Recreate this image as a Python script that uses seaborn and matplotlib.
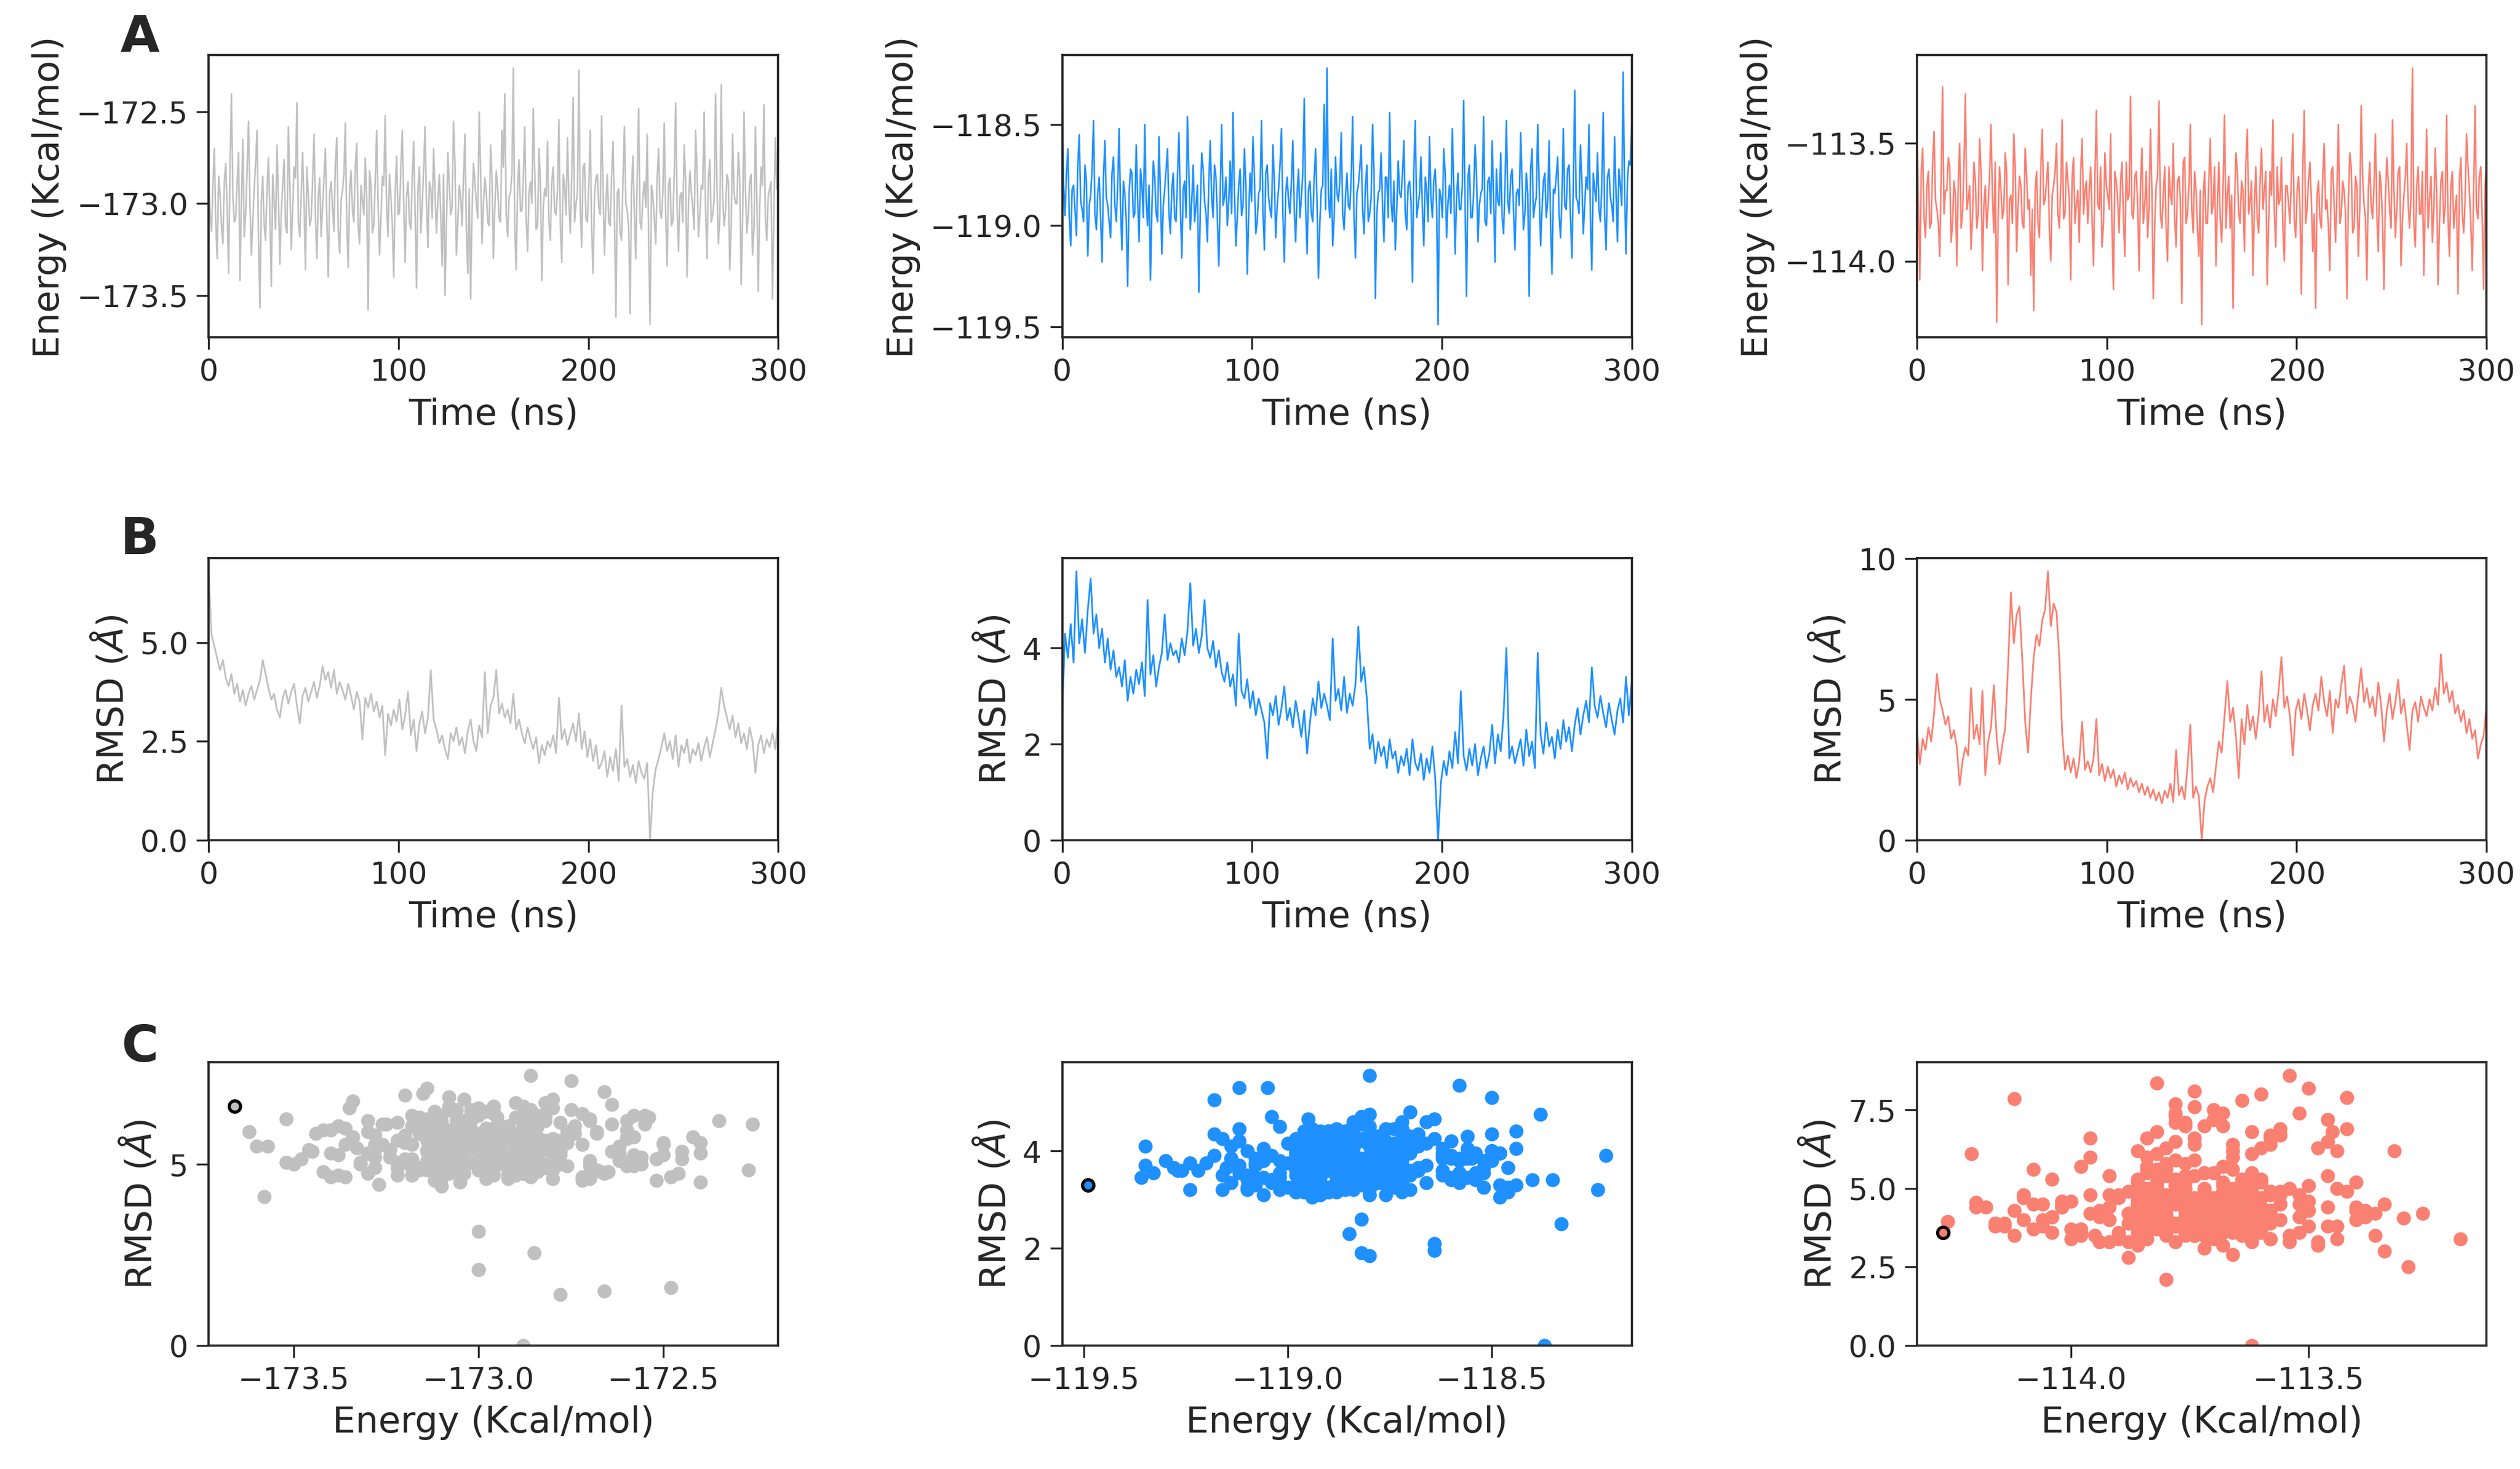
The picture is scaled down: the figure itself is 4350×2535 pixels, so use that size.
import numpy as np
import seaborn as sns
import matplotlib.pyplot as plt
from matplotlib.ticker import MultipleLocator

# 1. energies (one frame every 0.75 ns, 0-300 ns)
gray_energy = [
    -172.82, -173.05, -173.15, -172.90, -172.70, -173.10, -173.30, -172.85, -172.95, -173.12, -173.22, -172.88, -172.78, -173.02, -173.38, -172.80, -172.40, -172.95, -173.10, -173.08,
    -172.88, -172.72, -173.42, -172.98, -172.65, -173.18, -173.05, -172.82, -172.55, -173.00, -173.28, -173.10, -172.92, -172.78, -172.60, -173.20, -173.57, -172.98, -172.85, -173.12,
    -173.20, -172.92, -172.75, -173.06, -173.45, -172.84, -172.98, -173.14, -172.68, -172.96, -173.33, -173.04, -172.90, -172.76, -173.12, -173.16, -172.58, -172.90, -173.25, -173.02,
    -172.80, -172.86, -172.45, -173.10, -173.18, -172.94, -172.72, -173.00, -173.36, -172.80, -172.95, -173.12, -173.08, -172.88, -172.62, -173.06, -173.30, -172.96, -172.86, -173.18,
    -173.02, -172.86, -172.70, -173.08, -173.40, -172.94, -172.88, -173.02, -173.15, -172.78, -172.64, -173.14, -173.27, -172.98, -172.93, -172.84, -172.56, -173.10, -173.35, -172.92,
    -172.82, -173.04, -173.10, -172.80, -172.67, -173.12, -173.22, -172.90, -172.98, -173.06, -172.75, -172.96, -173.58, -172.82, -172.90, -173.16, -173.12, -172.88, -172.60, -173.00,
    -173.28, -173.08, -172.85, -172.90, -172.52, -173.02, -173.18, -172.84, -172.96, -173.12, -173.40, -172.94, -172.74, -173.06, -173.05, -172.80, -172.60, -173.00, -173.32, -172.96,
    -172.88, -173.10, -173.14, -172.86, -172.66, -173.04, -173.46, -172.92, -172.80, -173.16, -173.00, -172.82, -172.58, -173.00, -173.24, -172.88, -172.92, -173.08, -172.70, -172.94,
    -173.16, -172.98, -172.84, -173.06, -173.34, -172.84, -173.50, -173.12, -172.72, -172.90, -173.06, -173.02, -172.55, -172.78, -173.28, -173.10, -172.90, -172.96, -173.12, -172.86,
    -172.62, -173.14, -173.38, -172.92, -173.52, -173.04, -172.78, -172.88, -173.00, -173.08, -172.50, -172.82, -173.22, -173.00, -172.86, -172.94, -173.10, -173.12, -172.68, -172.86,
    -173.30, -173.02, -172.82, -172.92, -173.08, -173.10, -172.60, -172.80, -172.40, -173.06, -173.18, -172.96, -172.94, -172.84, -172.26, -173.14, -173.36, -172.90, -172.76, -173.04,
    -173.04, -172.86, -172.58, -173.08, -173.26, -172.94, -172.88, -173.00, -172.48, -172.82, -173.14, -173.12, -172.70, -172.88, -173.42, -173.02, -172.92, -172.96, -172.66, -173.10,
    -173.20, -172.88, -172.80, -173.04, -173.06, -172.92, -172.54, -173.12, -173.32, -172.84, -172.90, -173.06, -172.64, -172.98, -173.16, -172.86, -172.42, -173.10, -173.00, -172.94,
    -172.27, -173.02, -173.24, -172.80, -172.78, -173.08, -173.10, -172.90, -172.60, -173.14, -173.38, -172.96, -172.86, -172.84, -173.02, -173.06, -172.52, -172.92, -173.28, -173.00,
    -172.84, -173.10, -173.12, -172.86, -172.66, -173.04, -173.62, -172.94, -172.92, -173.16, -173.20, -172.88, -172.58, -173.00, -173.04, -173.12, -173.60, -172.92, -172.74, -173.06,
    -173.30, -172.84, -172.48, -173.10, -173.14, -172.96, -172.88, -173.02, -172.62, -173.18, -173.66, -172.90, -172.96, -173.08, -173.22, -172.86, -172.70, -173.04, -173.08, -172.94,
    -172.56, -173.06, -173.34, -172.90, -172.86, -173.12, -173.10, -172.84, -172.45, -173.02, -173.26, -172.96, -172.94, -173.10, -172.68, -172.88, -173.40, -173.00, -172.82, -172.94,
    -173.02, -173.14, -172.60, -172.82, -173.18, -173.06, -172.90, -172.92, -172.50, -173.04, -173.30, -172.86, -172.76, -173.10, -173.06, -172.98, -172.40, -172.90, -173.22, -173.08,
    -172.35, -172.96, -173.12, -173.04, -172.84, -172.88, -173.36, -173.12, -172.62, -172.94, -173.00, -173.00, -172.72, -172.86, -173.44, -173.10, -172.50, -172.92, -173.16, -173.06,
    -172.88, -172.84, -173.28, -173.14, -172.58, -172.98, -173.48, -173.02, -172.80, -172.90, -172.46, -173.08, -173.20, -172.96, -172.92, -172.88, -173.52, -173.04, -172.64, -172.92,
    -172.78,
]
blue_energy = [
    -118.35, -118.80, -118.95, -118.74, -118.62, -118.96, -119.10, -118.82, -118.80, -118.92, -119.05, -118.70, -118.55, -118.88, -118.92, -118.98, -118.70, -118.78, -119.15, -118.90,
    -118.85, -118.72, -118.48, -118.94, -119.02, -118.84, -118.76, -118.96, -119.18, -118.76, -118.58, -118.86, -118.90, -118.98, -119.06, -118.74, -118.66, -118.90, -118.98, -118.80,
    -118.52, -118.92, -119.12, -118.78, -118.84, -118.98, -119.30, -118.84, -118.72, -118.74, -118.96, -118.94, -118.60, -118.86, -119.08, -118.72, -118.80, -118.96, -118.50, -118.88,
    -119.00, -118.80, -119.27, -118.92, -118.68, -118.76, -118.94, -118.98, -118.56, -118.84, -119.14, -118.90, -118.82, -118.72, -118.62, -118.94, -119.04, -118.82, -118.74, -118.96,
    -118.98, -118.76, -118.54, -118.90, -119.16, -118.82, -118.78, -118.96, -118.46, -118.74, -119.02, -118.88, -118.70, -118.98, -118.90, -118.80, -119.33, -118.92, -118.64, -118.72,
    -118.88, -118.94, -119.08, -118.78, -118.58, -118.86, -118.96, -118.70, -118.76, -118.96, -119.20, -118.84, -118.50, -118.90, -118.86, -118.76, -119.00, -118.88, -118.68, -118.94,
    -118.44, -118.84, -119.10, -118.96, -118.80, -118.72, -118.95, -118.90, -118.62, -118.80, -119.24, -118.94, -118.74, -118.88, -118.56, -118.76, -119.04, -118.98, -118.84, -118.82,
    -118.48, -118.92, -119.12, -118.74, -118.70, -118.86, -118.92, -118.96, -118.60, -118.78, -119.06, -118.90, -118.82, -118.70, -118.52, -118.94, -119.18, -118.84, -118.76, -118.88,
    -118.94, -118.78, -118.58, -118.92, -119.08, -118.84, -118.72, -118.96, -118.86, -118.74, -118.37, -118.90, -119.14, -118.82, -118.78, -118.94, -118.98, -118.76, -118.62, -118.88,
    -119.26, -118.98, -118.82, -118.80, -118.40, -118.92, -118.22, -118.86, -118.96, -118.72, -119.10, -118.96, -118.66, -118.84, -118.88, -118.78, -118.54, -118.94, -119.02, -118.86,
    -118.74, -118.90, -118.92, -118.76, -118.46, -118.96, -119.16, -118.84, -118.80, -118.72, -118.60, -118.92, -119.04, -118.80, -118.70, -118.98, -118.94, -118.86, -118.50, -118.74,
    -119.36, -118.94, -118.84, -118.82, -118.64, -118.90, -119.08, -118.76, -118.76, -118.96, -118.44, -118.88, -118.98, -118.78, -119.12, -118.92, -118.68, -118.84, -118.86, -118.74,
    -118.58, -118.94, -119.02, -118.80, -118.78, -118.88, -119.28, -118.72, -118.48, -118.96, -118.90, -118.84, -118.66, -118.92, -119.10, -118.76, -118.82, -118.98, -118.56, -118.86,
    -118.96, -118.78, -118.72, -118.90, -119.49, -118.82, -118.86, -118.96, -118.62, -118.74, -119.06, -118.88, -118.80, -118.94, -118.52, -118.80, -119.14, -118.86, -118.74, -118.92,
    -118.92, -118.80, -118.38, -118.92, -119.35, -118.76, -118.70, -118.96, -118.96, -118.84, -118.60, -118.74, -119.08, -118.90, -118.84, -118.82, -118.46, -118.98, -119.00, -118.78,
    -118.76, -118.94, -118.58, -118.86, -119.18, -118.72, -118.88, -118.90, -118.64, -118.96, -119.04, -118.80, -118.48, -118.88, -118.94, -118.76, -118.72, -118.92, -119.12, -118.84,
    -118.82, -118.90, -118.54, -118.78, -119.02, -118.94, -118.74, -118.84, -119.35, -118.72, -118.62, -118.96, -118.90, -118.86, -118.50, -118.80, -119.10, -118.92, -118.78, -118.74,
    -118.96, -118.88, -118.58, -118.98, -119.24, -118.82, -118.84, -118.76, -118.66, -118.94, -119.06, -118.86, -118.52, -118.90, -118.92, -118.72, -118.70, -118.96, -119.16, -118.80,
    -118.33, -118.86, -118.88, -118.94, -118.60, -118.78, -119.04, -118.90, -118.76, -118.82, -118.50, -118.96, -119.22, -118.74, -118.82, -118.88, -118.64, -118.92, -118.98, -118.80,
    -118.44, -118.94, -119.12, -118.76, -118.72, -118.86, -118.90, -118.98, -118.56, -118.84, -119.08, -118.72, -118.80, -118.90, -118.24, -118.82, -119.14, -118.78, -118.68, -118.70,
    -118.50,
]
salmon_energy = [
    -113.40, -113.76, -114.08, -113.62, -113.52, -113.82, -113.90, -113.68, -113.62, -113.86, -113.84, -113.58, -113.45, -113.74, -113.78, -113.84, -113.98, -113.64, -113.26, -113.80,
    -113.70, -113.70, -113.56, -113.60, -113.92, -113.84, -113.66, -113.72, -114.02, -113.66, -113.50, -113.86, -113.80, -113.60, -113.29, -113.78, -113.74, -113.68, -113.95, -113.82,
    -113.58, -113.66, -113.86, -113.80, -113.48, -113.62, -114.04, -113.76, -113.68, -113.86, -113.76, -113.64, -113.42, -113.72, -113.88, -113.58, -114.26, -113.82, -113.60, -113.70,
    -113.82, -113.78, -113.54, -113.62, -114.10, -113.74, -113.72, -113.84, -113.46, -113.60, -113.96, -113.76, -113.64, -113.68, -113.84, -113.86, -113.52, -113.64, -113.78, -113.74,
    -114.06, -113.78, -114.21, -113.70, -113.62, -113.84, -113.90, -113.60, -113.44, -113.76, -113.74, -113.66, -113.58, -113.86, -114.00, -113.72, -113.68, -113.62, -113.50, -113.80,
    -113.86, -113.68, -113.40, -113.82, -113.80, -113.58, -113.66, -113.74, -114.08, -113.64, -113.56, -113.84, -113.76, -113.70, -113.92, -113.62, -113.48, -113.80, -113.70, -113.66,
    -113.84, -113.70, -113.60, -113.82, -114.02, -113.64, -113.36, -113.76, -113.78, -113.60, -113.94, -113.84, -113.54, -113.68, -113.72, -113.78, -113.46, -113.86, -114.12, -113.62,
    -113.66, -113.74, -113.88, -113.66, -113.58, -113.82, -113.98, -113.58, -113.74, -113.72, -113.30, -113.80, -113.82, -113.64, -113.62, -113.76, -114.04, -113.68, -113.52, -113.84,
    -113.76, -113.62, -113.90, -113.78, -113.44, -113.70, -114.16, -113.84, -113.68, -113.64, -113.32, -113.80, -113.86, -113.72, -113.60, -113.86, -114.00, -113.60, -113.72, -113.76,
    -113.50, -113.82, -113.94, -113.66, -113.64, -113.74, -114.18, -113.58, -113.56, -113.84, -113.80, -113.68, -113.42, -113.78, -113.88, -113.62, -113.70, -113.86, -113.98, -113.70,
    -114.27, -113.74, -113.62, -113.84, -113.84, -113.66, -113.48, -113.80, -113.76, -113.60, -114.02, -113.76, -113.58, -113.82, -113.92, -113.68, -113.38, -113.86, -113.72, -113.64,
    -113.86, -113.72, -114.20, -113.78, -113.54, -113.62, -113.80, -113.84, -113.66, -113.70, -113.96, -113.58, -113.44, -113.80, -113.74, -113.66, -114.06, -113.76, -113.60, -113.82,
    -113.88, -113.66, -113.52, -113.78, -113.70, -113.62, -114.10, -113.84, -113.62, -113.72, -113.40, -113.80, -113.94, -113.60, -113.76, -113.74, -113.56, -113.86, -114.00, -113.68,
    -113.68, -113.76, -113.84, -113.64, -113.46, -113.82, -113.90, -113.70, -113.64, -113.78, -114.14, -113.60, -113.36, -113.84, -113.78, -113.66, -113.58, -113.74, -113.96, -113.80,
    -114.20, -113.72, -113.66, -113.82, -113.86, -113.64, -113.50, -113.78, -113.74, -113.86, -114.04, -113.62, -113.60, -113.76, -113.92, -113.70, -113.42, -113.84, -113.80, -113.66,
    -113.70, -113.80, -114.16, -113.74, -113.54, -113.60, -113.88, -113.86, -113.64, -113.68, -113.98, -113.78, -113.34, -113.64, -113.76, -113.82, -114.08, -113.70, -113.58, -113.76,
    -113.82, -113.68, -113.46, -113.80, -113.96, -113.62, -113.68, -113.84, -114.12, -113.74, -113.56, -113.66, -113.78, -113.86, -113.40, -113.70, -113.90, -113.78, -113.62, -113.60,
    -114.02, -113.82, -113.72, -113.64, -113.50, -113.76, -113.86, -113.72, -113.18, -113.84, -113.94, -113.68, -113.60, -113.80, -113.80, -113.62, -114.06, -113.74, -113.44, -113.86,
    -113.74, -113.64, -113.92, -113.78, -113.52, -113.70, -114.10, -113.84, -113.66, -113.62, -113.84, -113.76, -113.38, -113.82, -113.98, -113.68, -113.62, -113.86, -113.78, -113.72,
    -114.14, -113.66, -113.56, -113.80, -113.88, -113.74, -113.46, -113.60, -113.70, -113.84, -114.04, -113.70, -113.34, -113.78, -113.82, -113.64, -113.60, -113.82, -114.12, -113.68,
    -113.58,
]

# RMSD against time, panel B (one frame every 1.5 ns)
gray_rmsd = [
    6.80, 5.20, 4.90, 4.60, 4.30, 4.55, 4.10, 3.90, 4.20, 3.70, 3.95, 3.50, 3.80, 3.40, 3.70, 3.90, 3.55, 3.80, 4.05, 4.55,
    4.20, 3.85, 3.55, 3.70, 3.30, 3.10, 3.60, 3.80, 3.45, 3.75, 3.95, 3.40, 2.95, 3.65, 3.85, 3.50, 3.75, 4.00, 3.60, 3.90,
    4.40, 4.05, 4.25, 3.85, 4.30, 3.70, 4.00, 3.80, 3.55, 3.95, 3.65, 3.30, 3.75, 3.50, 2.55, 3.60, 3.35, 3.70, 3.25, 3.50,
    3.10, 3.40, 2.15, 3.20, 2.90, 3.30, 3.00, 3.55, 2.80, 3.15, 3.75, 2.65, 3.05, 2.25, 2.95, 3.25, 2.70, 3.10, 4.30, 3.05,
    2.80, 2.45, 2.65, 2.30, 2.05, 2.70, 2.50, 2.85, 2.40, 2.60, 2.20, 2.75, 3.05, 2.50, 2.25, 2.90, 2.60, 4.25, 2.70, 3.40,
    3.60, 4.30, 3.20, 3.45, 3.10, 3.30, 2.95, 3.70, 2.80, 3.05, 2.70, 2.45, 2.85, 2.55, 2.30, 2.60, 1.95, 2.40, 2.15, 2.50,
    2.35, 2.65, 2.20, 3.60, 2.55, 2.80, 2.40, 2.70, 2.95, 2.50, 3.20, 2.30, 2.75, 2.10, 2.55, 2.00, 2.40, 1.80, 1.95, 2.25,
    1.60, 2.10, 1.75, 2.30, 1.50, 3.40, 1.85, 2.05, 1.60, 1.90, 1.45, 2.00, 1.70, 1.55, 1.95, 0.00, 1.25, 1.80, 2.05, 2.35,
    2.70, 2.25, 2.50, 2.05, 2.65, 1.85, 2.40, 2.20, 2.55, 1.95, 2.30, 2.15, 2.45, 2.00, 2.35, 2.60, 2.10, 2.45, 2.80, 3.20,
    3.85, 3.40, 3.10, 2.80, 3.15, 2.60, 2.95, 2.45, 2.70, 2.30, 2.85, 2.50, 1.70, 2.40, 2.65, 2.20, 2.55, 2.35, 2.70, 2.30,
    3.05,
]
blue_rmsd = [
    2.65, 4.30, 3.80, 4.50, 3.70, 5.60, 4.10, 4.60, 3.90, 4.80, 5.45, 4.30, 4.70, 4.00, 4.40, 3.70, 4.20, 3.55, 3.95, 3.40,
    3.60, 3.20, 3.75, 2.90, 3.40, 3.05, 3.55, 3.25, 3.70, 3.00, 5.00, 3.45, 3.85, 3.20, 3.60, 3.90, 4.70, 3.75, 4.10, 3.85,
    3.95, 3.70, 4.20, 3.85, 4.35, 5.35, 4.05, 4.40, 3.90, 4.25, 5.00, 4.00, 3.80, 4.15, 3.60, 3.95, 3.50, 3.30, 3.70, 3.20,
    3.45, 2.80, 4.30, 3.10, 2.95, 3.35, 2.75, 3.10, 2.60, 2.95, 2.70, 2.45, 1.70, 2.85, 2.60, 3.00, 2.40, 2.75, 3.20, 2.50,
    2.75, 2.35, 2.90, 2.55, 2.15, 2.70, 1.80, 2.45, 2.95, 2.60, 3.30, 2.75, 3.05, 2.80, 2.50, 4.20, 2.90, 3.15, 2.70, 3.40,
    2.65, 3.05, 2.80, 3.25, 4.45, 3.30, 3.60, 2.95, 1.90, 2.20, 1.60, 2.05, 1.75, 1.95, 1.50, 2.10, 1.70, 1.85, 1.40, 1.75,
    1.55, 1.90, 1.35, 2.10, 1.60, 1.45, 1.80, 1.25, 1.70, 1.40, 1.95, 1.30, 0.00, 1.20, 1.65, 1.35, 1.85, 1.50, 2.25, 1.60,
    3.10, 1.75, 1.45, 1.90, 1.55, 2.00, 1.35, 1.70, 1.95, 1.50, 1.80, 2.40, 1.60, 2.20, 1.85, 2.60, 4.00, 1.70, 1.95, 1.60,
    1.85, 2.10, 1.55, 2.30, 1.75, 2.05, 1.50, 3.90, 2.20, 1.80, 2.45, 1.95, 2.15, 1.70, 2.30, 1.90, 2.50, 2.05, 2.35, 1.85,
    2.40, 2.75, 2.20, 2.60, 2.90, 2.45, 3.60, 2.80, 2.55, 3.00, 2.65, 2.35, 2.85, 2.50, 2.20, 2.70, 2.95, 2.45, 3.40, 2.60,
    3.30,
]
salmon_rmsd = [
    3.90, 2.70, 3.60, 3.20, 4.00, 3.50, 4.50, 5.90, 5.00, 4.60, 4.10, 4.40, 3.60, 3.90, 3.30, 1.95, 2.80, 3.30, 3.00, 5.40,
    3.60, 4.10, 3.40, 5.30, 2.30, 3.50, 4.00, 5.50, 3.60, 2.70, 3.40, 4.00, 6.20, 8.80, 7.00, 8.00, 8.30, 6.40, 4.20, 3.10,
    5.00, 6.50, 7.30, 6.90, 7.80, 8.20, 9.55, 7.60, 8.40, 8.10, 6.50, 3.80, 2.50, 3.00, 2.40, 2.90, 2.20, 2.80, 4.20, 2.50,
    2.80, 2.40, 2.90, 4.30, 2.30, 2.70, 2.10, 2.60, 2.20, 2.50, 1.90, 2.30, 2.00, 2.40, 1.80, 2.20, 1.90, 2.10, 1.70, 2.00,
    1.60, 1.90, 1.50, 1.80, 1.40, 1.70, 1.30, 1.75, 1.50, 2.00, 1.35, 3.20, 1.60, 1.90, 1.45, 2.60, 4.10, 1.50, 1.90, 1.55,
    0.00, 1.40, 1.90, 2.20, 1.70, 2.60, 3.50, 3.10, 4.40, 5.65, 4.20, 4.70, 3.70, 2.20, 4.30, 3.40, 4.80, 3.90, 4.40, 3.60,
    4.50, 6.00, 4.20, 4.80, 4.00, 5.00, 4.40, 5.30, 6.50, 4.70, 5.10, 4.40, 3.00, 4.60, 5.00, 4.30, 5.20, 4.60, 3.90, 4.80,
    5.20, 4.60, 5.80, 4.90, 4.40, 5.30, 3.80, 5.00, 4.70, 5.50, 6.20, 4.50, 5.10, 4.80, 4.20, 5.20, 6.10, 4.90, 5.40, 4.70,
    5.10, 4.40, 5.60, 4.80, 3.50, 4.60, 5.20, 4.30, 4.90, 5.70, 4.50, 5.00, 4.10, 3.20, 4.60, 4.90, 4.20, 5.10, 4.70, 4.40,
    5.00, 4.60, 5.40, 4.80, 6.60, 5.20, 5.60, 4.90, 5.30, 4.50, 4.80, 4.20, 4.60, 3.80, 4.30, 3.60, 3.90, 2.90, 3.40, 3.70,
    4.80,
]

# RMSD of the same frames as the energy lists, panel C
gray_rmsd_c = [
    5.40, 5.20, 5.85, 5.70, 4.95, 4.90, 6.20, 6.10, 5.30, 5.40, 4.70, 5.00, 5.65, 5.85, 6.05, 5.30, 5.60, 6.30, 5.10, 4.75,
    0.00, 5.55, 5.95, 6.00, 4.80, 5.15, 5.50, 5.65, 6.35, 4.85, 5.20, 6.20, 4.60, 5.35, 5.75, 5.80, 5.50, 4.60, 2.55, 5.50,
    5.05, 6.05, 6.50, 5.25, 5.35, 5.75, 4.85, 4.95, 5.90, 6.40, 5.45, 5.10, 6.70, 5.60, 4.55, 5.90, 5.25, 4.70, 6.10, 5.45,
    5.70, 6.15, 5.15, 5.05, 4.90, 5.85, 6.40, 5.35, 5.55, 6.55, 5.00, 4.80, 6.85, 5.70, 5.30, 5.20, 4.75, 6.00, 5.80, 5.55,
    6.25, 4.85, 5.10, 5.95, 4.65, 5.40, 5.60, 6.25, 6.95, 5.00, 5.35, 5.65, 4.45, 6.45, 5.90, 5.15, 5.20, 5.80, 6.55, 4.65,
    5.00, 6.10, 5.75, 5.30, 4.80, 5.75, 6.15, 5.05, 5.45, 6.35, 7.30, 5.50, 4.10, 4.90, 5.25, 6.00, 6.30, 5.25, 4.95, 5.85,
    5.55, 5.60, 6.00, 4.80, 5.15, 6.20, 4.70, 5.35, 6.60, 5.90, 5.30, 5.10, 5.85, 6.50, 4.50, 5.45, 6.20, 4.95, 5.05, 5.70,
    5.65, 6.05, 7.10, 5.20, 1.50, 5.80, 5.40, 4.75, 4.85, 6.30, 3.15, 5.55, 6.35, 5.00, 5.20, 6.15, 5.70, 5.40, 4.60, 5.95,
    5.95, 5.15, 5.25, 6.10, 6.75, 5.50, 5.00, 4.85, 4.55, 5.75, 5.50, 6.40, 6.10, 5.25, 4.90, 5.95, 5.80, 4.70, 6.45, 5.60,
    5.15, 6.25, 4.70, 5.05, 6.25, 5.85, 1.40, 5.40, 2.10, 6.60, 5.60, 4.90, 5.05, 5.70, 7.45, 5.30, 4.40, 6.00, 5.85, 5.45,
    5.30, 5.90, 6.40, 5.20, 4.95, 6.35, 5.70, 5.55, 4.50, 4.80, 6.05, 5.75, 5.20, 6.15, 6.10, 5.10, 4.65, 5.65, 5.90, 4.95,
    6.80, 6.45, 5.10, 5.35, 5.55, 5.85, 4.75, 5.00, 1.60, 6.20, 5.35, 5.50, 6.20, 4.75, 4.80, 5.95, 5.65, 5.25, 7.00, 6.05,
    5.15, 5.35, 4.60, 6.00, 5.85, 4.90, 6.30, 5.70, 5.00, 6.30, 5.45, 5.15, 6.65, 5.80, 4.85, 4.65, 5.75, 6.10, 2.10, 5.45,
    4.85, 5.95, 5.40, 5.05, 6.15, 6.50, 4.70, 5.60, 5.95, 4.85, 5.25, 5.75, 6.50, 6.25, 5.05, 5.30, 4.55, 5.90, 5.80, 5.10,
    6.35, 5.65, 5.20, 5.00, 4.75, 6.20, 5.90, 5.40, 5.60, 5.85, 6.90, 4.80, 4.95, 6.40, 5.50, 5.25, 5.50, 5.70, 6.05, 5.05,
    5.30, 6.05, 4.65, 5.50, 5.85, 4.90, 6.60, 5.95, 5.10, 6.35, 6.60, 5.20, 5.40, 5.80, 4.90, 4.70, 6.25, 6.15, 5.65, 5.55,
    5.00, 5.10, 5.75, 5.85, 6.45, 6.25, 4.60, 4.95, 5.35, 5.60, 6.10, 6.45, 5.20, 5.30, 4.85, 5.75, 5.95, 4.85, 6.70, 6.00,
    5.45, 5.40, 5.05, 6.30, 4.70, 5.15, 6.30, 5.90, 5.55, 4.75, 5.90, 5.65, 4.95, 6.10, 6.20, 5.25, 5.30, 5.80, 5.65, 5.00,
    6.20, 5.75, 5.10, 5.20, 4.80, 6.05, 6.00, 4.90, 5.50, 5.55, 6.55, 6.35, 4.65, 5.10, 5.85, 5.85, 5.25, 4.80, 4.90, 6.20,
    6.35, 5.45, 5.40, 5.95, 5.75, 5.05, 5.15, 6.50, 6.80, 5.30, 4.75, 5.70, 5.60, 4.95, 5.95, 6.10, 5.05, 5.40, 6.10, 5.60,
    5.35,
]
blue_rmsd_c = [
    3.40, 3.60, 3.75, 4.10, 4.05, 3.35, 3.50, 3.85, 1.85, 4.40, 5.30, 3.20, 3.85, 3.70, 3.30, 4.00, 4.30, 3.50, 3.65, 4.25,
    2.30, 3.15, 3.95, 3.90, 3.20, 3.65, 4.45, 4.35, 5.05, 3.40, 5.35, 3.80, 3.60, 4.15, 3.10, 3.30, 4.15, 3.95, 3.70, 3.55,
    3.55, 4.20, 4.20, 3.45, 3.35, 3.75, 3.80, 4.50, 4.60, 3.25, 3.15, 3.90, 3.90, 3.60, 3.45, 4.05, 5.55, 3.35, 4.00, 3.85,
    3.25, 4.30, 3.60, 3.10, 4.35, 3.70, 3.05, 4.15, 3.85, 3.50, 4.10, 3.95, 1.90, 3.40, 3.50, 4.45, 4.70, 3.65, 3.30, 3.80,
    3.95, 3.30, 3.40, 4.00, 4.25, 3.55, 3.70, 4.25, 3.15, 3.75, 4.50, 3.15, 3.60, 3.90, 3.90, 4.40, 3.55, 3.45, 1.95, 3.70,
    4.05, 4.10, 3.35, 3.35, 3.80, 3.85, 4.40, 3.60, 3.10, 4.35, 3.75, 3.20, 5.10, 3.95, 3.45, 3.50, 4.15, 4.05, 3.65, 3.75,
    3.30, 3.85, 4.00, 3.40, 3.55, 4.20, 4.65, 3.65, 3.85, 3.10, 3.20, 3.95, 3.70, 4.45, 4.30, 3.55, 3.40, 3.80, 3.95, 3.30,
    3.05, 4.00, 5.30, 3.70, 3.60, 4.30, 4.20, 3.45, 3.45, 3.90, 3.80, 3.25, 4.55, 4.15, 3.25, 3.60, 3.90, 3.75, 3.65, 4.05,
    4.10, 3.50, 3.35, 3.95, 3.75, 3.25, 4.45, 4.10, 3.50, 3.70, 0.00, 4.40, 3.85, 3.35, 4.25, 3.85, 3.15, 3.60, 3.95, 4.20,
    3.60, 3.15, 4.70, 3.90, 3.40, 3.55, 3.90, 4.35, 4.05, 3.80, 3.25, 3.40, 3.70, 4.05, 4.35, 3.65, 3.55, 3.95, 3.80, 3.30,
    3.45, 4.15, 4.15, 3.60, 3.65, 3.85, 3.20, 3.35, 4.50, 4.25, 3.85, 3.75, 3.35, 3.20, 4.80, 4.00, 3.75, 3.55, 4.00, 4.45,
    3.45, 3.70, 3.60, 3.45, 4.25, 3.95, 3.30, 4.10, 3.95, 3.30, 4.40, 3.80, 3.50, 4.30, 3.70, 3.50, 4.10, 3.90, 3.25, 3.65,
    3.85, 3.75, 3.55, 4.20, 4.30, 3.40, 3.65, 3.95, 3.95, 3.60, 3.15, 4.35, 4.60, 3.25, 3.40, 3.85, 2.60, 4.05, 4.05, 3.50,
    3.70, 3.90, 4.20, 3.15, 3.30, 4.25, 3.60, 3.70, 3.90, 3.55, 3.45, 4.00, 4.75, 3.35, 3.80, 3.80, 3.35, 4.40, 4.15, 3.65,
    3.60, 3.45, 4.75, 3.90, 3.70, 4.15, 3.95, 3.30, 4.25, 3.80, 3.40, 3.60, 3.85, 4.30, 4.55, 3.50, 3.25, 3.95, 3.75, 3.70,
    4.00, 3.25, 3.50, 4.05, 4.35, 3.65, 3.65, 4.40, 2.10, 3.40, 3.90, 3.85, 3.30, 3.55, 4.15, 4.20, 3.55, 3.75, 4.45, 3.35,
    3.70, 4.00, 3.95, 3.55, 3.45, 3.80, 4.10, 4.30, 4.10, 3.40, 3.60, 3.90, 4.40, 3.20, 3.80, 4.15, 3.20, 3.65, 3.90, 3.95,
    4.25, 3.50, 3.55, 4.25, 3.75, 3.75, 4.60, 3.35, 3.35, 4.05, 4.05, 3.60, 3.65, 3.85, 3.85, 4.45, 4.30, 3.45, 3.50, 3.70,
    2.50, 3.65, 3.80, 4.10, 4.20, 3.35, 3.40, 3.90, 3.95, 4.20, 4.35, 3.55, 3.60, 3.80, 3.75, 3.25, 4.65, 4.00, 3.30, 3.70,
    4.05, 4.35, 3.55, 3.45, 3.90, 3.85, 4.25, 3.60, 3.45, 4.15, 3.70, 3.30, 4.10, 3.95, 3.20, 3.75, 3.85, 4.05, 3.60, 3.50,
    4.00,
]
salmon_rmsd_c = [
    4.30, 4.10, 3.70, 3.60, 4.80, 4.70, 3.40, 3.90, 5.10, 5.20, 3.90, 4.30, 6.80, 3.50, 4.50, 4.80, 3.60, 4.00, 4.20, 5.60,
    7.20, 3.80, 4.00, 4.40, 3.30, 3.40, 5.60, 4.90, 4.40, 4.20, 3.80, 6.20, 2.10, 3.70, 2.50, 4.60, 4.70, 4.10, 3.50, 5.00,
    4.90, 3.90, 3.60, 4.50, 6.30, 3.30, 4.10, 5.40, 3.20, 4.20, 4.60, 3.80, 7.90, 4.70, 3.90, 6.60, 3.95, 4.00, 4.40, 3.60,
    8.35, 5.10, 3.50, 4.30, 4.80, 3.50, 3.10, 4.80, 5.40, 4.10, 4.20, 7.10, 3.70, 3.70, 6.60, 4.40, 4.50, 5.30, 3.30, 3.90,
    4.00, 4.60, 6.10, 3.40, 0.00, 5.00, 4.70, 4.20, 3.80, 3.80, 5.90, 6.40, 4.30, 4.50, 3.40, 3.60, 7.40, 4.90, 4.60, 4.10,
    3.70, 5.70, 5.20, 3.70, 4.10, 4.30, 2.90, 3.50, 4.50, 4.80, 6.90, 4.00, 3.60, 5.50, 4.80, 3.90, 3.20, 4.40, 4.40, 6.00,
    5.50, 3.80, 3.90, 4.70, 4.60, 4.10, 3.50, 5.20, 7.70, 3.60, 4.20, 4.40, 3.30, 7.00, 5.00, 3.90, 4.40, 4.60, 7.85, 4.00,
    3.80, 5.40, 4.90, 3.70, 6.40, 4.30, 3.60, 4.90, 7.60, 3.50, 4.05, 6.30, 4.30, 4.20, 3.40, 3.80, 5.30, 5.10, 4.10, 4.50,
    3.70, 4.00, 4.80, 5.30, 6.20, 3.70, 3.90, 4.50, 4.50, 4.10, 6.20, 5.80, 3.20, 3.60, 8.00, 4.70, 4.60, 4.30, 3.80, 3.90,
    5.10, 6.80, 4.30, 4.20, 3.50, 3.50, 4.40, 4.80, 6.70, 4.00, 3.60, 5.20, 4.90, 3.80, 2.80, 4.60, 4.20, 4.10, 5.70, 7.20,
    3.60, 4.40, 4.00, 3.70, 4.70, 5.00, 3.30, 4.20, 7.00, 3.90, 4.50, 4.70, 3.90, 6.10, 5.40, 3.60, 4.10, 4.50, 3.50, 4.10,
    4.80, 5.50, 4.40, 3.80, 8.60, 4.30, 3.70, 4.90, 4.30, 3.70, 6.00, 6.70, 3.40, 4.00, 4.60, 4.60, 3.80, 3.50, 5.20, 5.10,
    4.20, 3.90, 3.60, 4.60, 7.50, 4.20, 4.70, 5.60, 3.90, 3.70, 4.40, 4.40, 3.30, 4.00, 5.80, 6.40, 4.50, 4.80, 3.70, 3.60,
    4.90, 4.30, 4.10, 5.20, 6.50, 3.80, 3.50, 4.50, 4.60, 7.40, 3.80, 4.10, 4.20, 3.60, 7.30, 4.90, 3.40, 4.20, 4.80, 5.40,
    4.55, 4.30, 3.90, 3.80, 5.30, 4.70, 4.30, 5.90, 8.10, 4.00, 3.60, 3.60, 4.70, 4.50, 4.00, 4.10, 6.90, 6.00, 3.50, 3.90,
    4.40, 4.80, 3.80, 4.20, 5.00, 5.30, 4.20, 3.70, 7.80, 4.40, 3.70, 6.50, 4.50, 4.00, 4.10, 4.60, 5.60, 3.80, 3.40, 5.00,
    4.60, 4.50, 3.80, 3.90, 6.60, 5.20, 4.30, 4.10, 3.50, 3.70, 4.90, 6.20, 7.10, 4.40, 4.00, 3.80, 3.60, 4.70, 5.50, 4.20,
    4.40, 5.60, 3.90, 3.60, 8.20, 4.30, 4.70, 7.00, 3.40, 4.00, 4.10, 4.80, 6.30, 3.90, 3.70, 5.40, 4.50, 4.20, 5.00, 3.80,
    3.60, 4.20, 4.40, 5.10, 7.40, 3.70, 4.00, 4.60, 3.80, 6.10, 5.70, 4.00, 4.30, 3.80, 3.50, 4.90, 6.80, 4.30, 4.60, 5.50,
    3.90, 3.60, 4.80, 4.40, 3.30, 6.60, 7.20, 4.10, 4.50, 3.90, 4.10, 4.70, 3.00, 5.20, 5.20, 3.80, 3.70, 4.50, 4.30, 4.00,
    4.00,
]

colors = ['#c0c0c0', '#1e90ff', '#fa8072']
energies = [gray_energy, blue_energy, salmon_energy]
rmsds = [gray_rmsd, blue_rmsd, salmon_rmsd]
rmsds_c = [gray_rmsd_c, blue_rmsd_c, salmon_rmsd_c]
rmsd_steps = [2.5, 2, 5]
scatter_steps = [5, 2, 2.5]

# 2. figure
sns.set_style('ticks')
plt.rcParams['font.family'] = ['DejaVu Sans']
plt.rcParams['axes.linewidth'] = 0.9
plt.rcParams['xtick.major.size'] = 5
plt.rcParams['ytick.major.size'] = 5
plt.rcParams['xtick.labelsize'] = 12.5
plt.rcParams['ytick.labelsize'] = 12.5
plt.rcParams['axes.labelsize'] = 15

fig = plt.figure(figsize=(14.5, 8.4533), dpi=300)
lefts = [0.0828, 0.4215, 0.7607]
width = 0.226
rows = [(0.770, 0.192), (0.428, 0.192), (0.084, 0.193)]

rmsd_label = r'RMSD ($\AA$)'

for col in range(3):
    energy = np.array(energies[col])
    rmsd = np.array(rmsds[col])
    rmsd_c = np.array(rmsds_c[col])
    c = colors[col]

    # A: energy vs time
    ax = fig.add_axes([lefts[col], rows[0][0], width, rows[0][1]])
    t = np.linspace(0, 300, len(energy))
    sns.lineplot(x=t, y=energy, ax=ax, color=c, linewidth=0.65, estimator=None)
    ax.set_xlim(0, 300)
    ax.xaxis.set_major_locator(MultipleLocator(100))
    ax.yaxis.set_major_locator(MultipleLocator(0.5))
    ax.set_xlabel('Time (ns)')
    ax.set_ylabel('Energy (Kcal/mol)')

    # B: rmsd vs time
    ax = fig.add_axes([lefts[col], rows[1][0], width, rows[1][1]])
    t = np.linspace(0, 300, len(rmsd))
    sns.lineplot(x=t, y=rmsd, ax=ax, color=c, linewidth=0.7, estimator=None)
    ax.set_xlim(0, 300)
    ax.set_ylim(bottom=0)
    ax.xaxis.set_major_locator(MultipleLocator(100))
    ax.yaxis.set_major_locator(MultipleLocator(rmsd_steps[col]))
    ax.set_xlabel('Time (ns)')
    ax.set_ylabel(rmsd_label)

    # C: rmsd vs energy, lowest-energy frame circled
    ax = fig.add_axes([lefts[col], rows[2][0], width, rows[2][1]])
    n = min(len(energy), len(rmsd_c))
    sns.scatterplot(x=energy[:n], y=rmsd_c[:n], ax=ax, color=c, s=34, linewidth=0)
    i_min = int(np.argmin(energy[:n]))
    ax.scatter([energy[i_min]], [rmsd_c[i_min]], s=22, facecolor=c,
               edgecolor='black', linewidth=1.3, zorder=5)
    ax.set_ylim(bottom=0)
    ax.xaxis.set_major_locator(MultipleLocator(0.5))
    ax.yaxis.set_major_locator(MultipleLocator(scatter_steps[col]))
    ax.set_xlabel('Energy (Kcal/mol)')
    ax.set_ylabel(rmsd_label)

for letter, y in [('A', 0.974), ('B', 0.6325), ('C', 0.287)]:
    fig.text(0.0555, y, letter, fontsize=21, fontweight='bold', ha='center', va='center')

fig.savefig('out.png', dpi=300)
